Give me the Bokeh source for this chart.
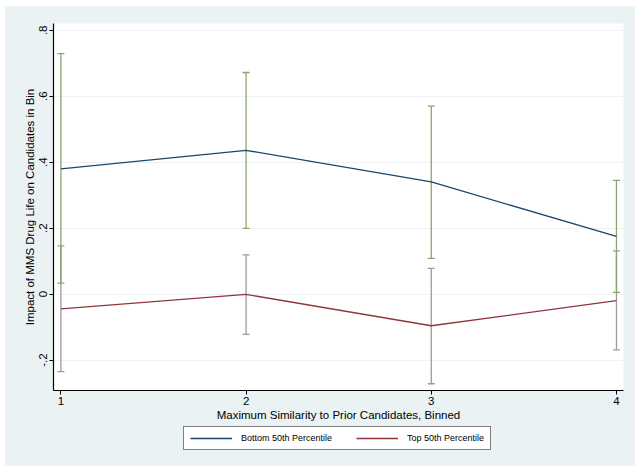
from bokeh.plotting import figure
from bokeh.layouts import column
from bokeh.models import (ColumnDataSource, Whisker, TeeHead, Legend, LegendItem,
                          FixedTicker, Range1d)
from bokeh.embed import file_html
from bokeh.resources import INLINE

# Similarity bins and estimated effects with confidence bounds
bins = [1, 2, 3, 4]
bottom_est = [0.380, 0.436, 0.340, 0.175]
bottom_lo = [0.033, 0.199, 0.108, 0.005]
bottom_hi = [0.729, 0.672, 0.570, 0.345]
top_est = [-0.045, -0.001, -0.096, -0.020]
top_lo = [-0.235, -0.122, -0.272, -0.169]
top_hi = [0.146, 0.119, 0.078, 0.131]

series_names = ["Bottom 50th Percentile", "Top 50th Percentile"]
y_ticks = [-0.2, 0.0, 0.2, 0.4, 0.6, 0.8]
y_tick_labels = ["-.2", "0", ".2", ".4", ".6", ".8"]
x_ticks = [1, 2, 3, 4]

FONT = "Liberation Sans"
BG = "#eaf2f3"
NAVY = "#1a476f"
MAROON = "#90353b"

src_bottom = ColumnDataSource(dict(x=bins, y=bottom_est, lo=bottom_lo, hi=bottom_hi))
src_top = ColumnDataSource(dict(x=bins, y=top_est, lo=top_lo, hi=top_hi))

p = figure(frame_width=570, frame_height=367, output_backend="svg", toolbar_location=None,
           x_range=Range1d(0.96, 4.038), y_range=Range1d(-0.2924, 0.8206),
           min_border_left=48, min_border_right=12, min_border_top=17,
           min_border_bottom=30)

p.background_fill_color = "white"
p.border_fill_color = BG
p.outline_line_color = None

# grid
p.xgrid.grid_line_color = None
p.ygrid.grid_line_color = "#edf3f4"
p.ygrid.grid_line_width = 1.2

# axes
p.xaxis.ticker = FixedTicker(ticks=x_ticks)
p.yaxis.ticker = FixedTicker(ticks=y_ticks)
p.yaxis.major_label_overrides = {t: l for t, l in zip(y_ticks, y_tick_labels)}
p.yaxis.major_label_orientation = "vertical"
for ax in (p.xaxis[0], p.yaxis[0]):
    ax.axis_line_color = "black"
    ax.axis_line_width = 1.2
    ax.major_tick_line_color = "black"
    ax.major_tick_out = 4
    ax.major_tick_in = 0
    ax.minor_tick_line_color = None
    ax.major_label_text_font = FONT
    ax.major_label_text_font_size = "11.5px"
    ax.major_label_text_color = "black"
    ax.axis_label_text_font = FONT
    ax.axis_label_text_font_size = "11.5px"
    ax.axis_label_text_font_style = "normal"
    ax.axis_label_text_color = "black"
    ax.axis_label_standoff = 1
    ax.major_label_standoff = 2
p.xaxis.axis_label = "Maximum Similarity to Prior Candidates, Binned"
p.yaxis.axis_label = "Impact of MMS Drug Life on Candidates in Bin"

# confidence intervals
grey = "#9c9c9c"
green = "#8aa66c"
w_top = Whisker(source=src_top, base="x", lower="lo", upper="hi",
                line_color=grey, line_width=1.3,
                upper_head=TeeHead(size=7, line_color=grey, line_width=1.3),
                lower_head=TeeHead(size=7, line_color=grey, line_width=1.3))
w_bottom = Whisker(source=src_bottom, base="x", lower="lo", upper="hi",
                   line_color=green, line_width=1.3,
                   upper_head=TeeHead(size=7, line_color=green, line_width=1.3),
                   lower_head=TeeHead(size=7, line_color=green, line_width=1.3))
p.add_layout(w_top)
p.add_layout(w_bottom)

# point estimates
p.line("x", "y", source=src_bottom, line_color=NAVY, line_width=1.3)
p.line("x", "y", source=src_top, line_color=MAROON, line_width=1.3)

# legend strip underneath the chart; its key lines share the series sources but
# the strip's ranges keep the series themselves out of view
leg = figure(frame_width=630, frame_height=45, output_backend="svg", toolbar_location=None,
             x_range=Range1d(0, 1), y_range=Range1d(5, 6),
             x_axis_type=None, y_axis_type=None, min_border=0)
leg.background_fill_color = BG
leg.border_fill_color = BG
leg.outline_line_color = None
leg.grid.grid_line_color = None
key_bottom = leg.line("x", "y", source=src_bottom, line_color=NAVY, line_width=1.3)
key_top = leg.line("x", "y", source=src_top, line_color=MAROON, line_width=1.3)

legend = Legend(items=[LegendItem(label=series_names[0], renderers=[key_bottom]),
                       LegendItem(label=series_names[1], renderers=[key_top])],
                orientation="horizontal", location=(178, 18))
legend.label_text_font = FONT
legend.label_text_font_size = "9px"
legend.label_text_color = "black"
legend.glyph_width = 42
legend.glyph_height = 10
legend.label_height = 10
legend.label_standoff = 9
legend.spacing = 24
legend.padding = 6
legend.margin = 0
legend.border_line_color = "black"
legend.border_line_width = 1.2
legend.background_fill_color = "white"
legend.background_fill_alpha = 1.0
leg.add_layout(legend, "center")

layout = column(p, leg, spacing=0, margin=(6, 0, 1, 5),
                styles={"background-color": BG})

open("out.html", "w").write(file_html(layout, INLINE))
